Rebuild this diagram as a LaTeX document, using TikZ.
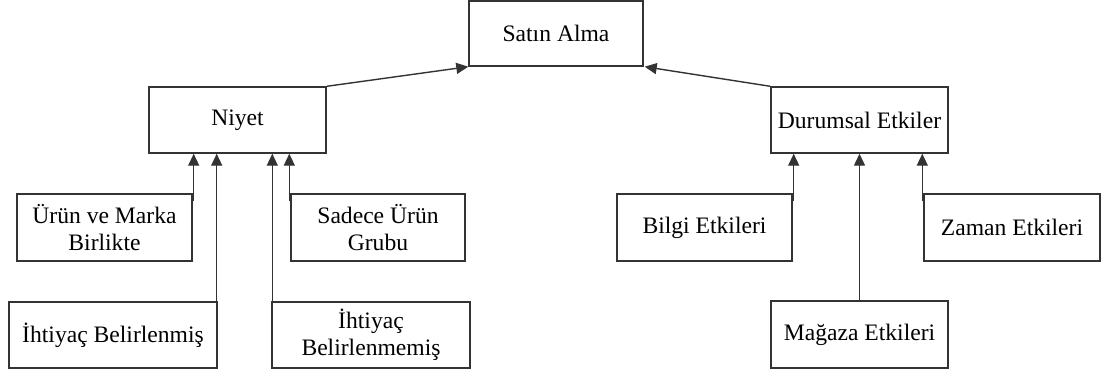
\documentclass[tikz,border=0pt]{standalone}
\usepackage{fontspec}
\setmainfont{Liberation Serif}
\usetikzlibrary{arrows.meta}
\definecolor{edge}{HTML}{333333}
\begin{document}
\begin{tikzpicture}[x=1pt,y=-1pt,
  box/.style={draw=edge,line width=1.4pt,fill=white,inner sep=0pt,
    align=center,font=\fontsize{23.6}{27}\selectfont},
  arr/.style={draw=edge,line width=1.4pt,-{Triangle[length=12pt,width=11pt]}}]
  % canvas
  \path[use as bounding box,fill=white] (0,0) rectangle (1106,376);

  % top level
  \node[box,minimum width=174pt,minimum height=65pt] (sa) at (556,33.5) {Satın Alma};

  % second level
  \node[box,minimum width=177pt,minimum height=66pt] (ni) at (237.5,120) {Niyet};
  \node[box,minimum width=177pt,minimum height=66pt] (du) at (859.5,120) {Durumsal Etkiler};

  % factors of intention
  \node[box,minimum width=175pt,minimum height=67pt] (ur) at (104.5,227.5) {Ürün ve Marka\\Birlikte};
  \node[box,minimum width=174pt,minimum height=67pt] (sd) at (378,227.5) {Sadece Ürün\\Grubu};
  \node[box,minimum width=208pt,minimum height=66pt] (ib) at (113,335) {İhtiyaç Belirlenmiş};
  \node[box,minimum width=198pt,minimum height=66pt] (im) at (371,335) {İhtiyaç\\Belirlenmemiş};

  % situational factors
  \node[box,minimum width=175pt,minimum height=67pt] (bi) at (704.5,227.5) {Bilgi Etkileri};
  \node[box,minimum width=176pt,minimum height=67pt] (za) at (1012,227.5) {Zaman Etkileri};
  \node[box,minimum width=177pt,minimum height=67pt] (ma) at (859.5,334.5) {Mağaza Etkileri};

  % arrows into the top box
  \draw[arr] (ni.north east) -- (sa.south west);
  \draw[arr] (du.north west) -- ([xshift=1pt]sa.south east);

  % arrows into Niyet
  \draw[arr] ([xshift=1pt,yshift=-8pt]ur.north east) -- ([xshift=1pt]ur.north east |- ni.south);
  \draw[arr] ([xshift=-1pt]ib.north east) -- ([xshift=-1pt]ib.north east |- ni.south);
  \draw[arr] ([xshift=1pt]im.north west) -- ([xshift=1pt]im.north west |- ni.south);
  \draw[arr] ([xshift=-1pt,yshift=-8pt]sd.north west) -- ([xshift=-1pt]sd.north west |- ni.south);

  % arrows into Durumsal Etkiler
  \draw[arr] ([xshift=1pt,yshift=-8pt]bi.north east) -- ([xshift=1pt]bi.north east |- du.south);
  \draw[arr] (ma.north) -- (ma.north |- du.south);
  \draw[arr] ([xshift=-1pt,yshift=-8pt]za.north west) -- ([xshift=-1pt]za.north west |- du.south);
\end{tikzpicture}
\end{document}
